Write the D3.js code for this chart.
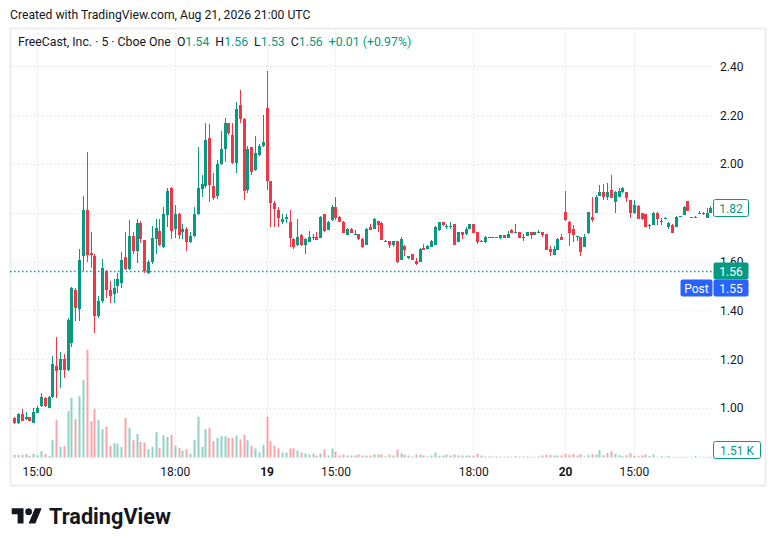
<!DOCTYPE html>
<html><head><meta charset="utf-8">
<script src="https://cdn.jsdelivr.net/npm/d3@7/dist/d3.min.js"></script>
<style>
html,body{margin:0;padding:0;background:#fff;}
svg{display:block;font-family:Roboto,"Noto Sans",sans-serif;}
</style></head><body>
<svg id="c" width="776" height="546"></svg>
<script>
// ---- data ----
const open = [.96,.94,.974,.954,.963,.94,.98,1.009,1.042,1.001,1.046,1.172,1.156,1.20,1.156,1.265,1.484,1.405,1.624,1.81,
1.635,1.623,1.377,1.437,1.56,1.484,1.467,1.50,1.514,1.618,1.571,1.705,1.645,1.758,1.688,1.553,1.597,1.692,1.725,1.66,
1.79,1.90,1.733,1.795,1.72,1.733,1.681,1.703,1.797,1.897,1.91,2.105,1.908,1.87,2.0,2.06,2.17,2.117,2.004,2.24,
2.186,1.894,2.068,1.975,2.038,2.075,2.23,1.93,1.84,1.81,1.764,1.776,1.762,1.693,1.667,1.709,1.668,1.68,1.698,1.70,
1.698,1.794,1.731,1.772,1.824,1.783,1.762,1.71,1.734,1.71,1.713,1.693,1.668,1.743,1.735,1.765,1.759,1.682,1.684,1.668,
1.684,1.607,1.664,1.615,1.631,1.602,1.60,1.656,1.652,1.66,1.668,1.731,1.762,1.742,1.743,1.754,1.682,1.721,1.713,1.735,
1.754,1.721,1.682,1.68,1.699,1.699,1.699,1.697,1.708,1.697,1.73,1.717,1.721,1.697,1.705,1.721,1.709,1.719,1.721,1.712,
1.652,1.628,1.648,1.70,1.803,1.764,1.734,1.70,1.70,1.66,1.717,1.784,1.80,1.87,1.885,1.866,1.893,1.843,1.866,1.885,
1.885,1.852,1.80,1.828,1.80,1.795,1.75,1.751,1.80,1.762,1.776,1.743,1.751,1.743,1.784,1.793,1.848,1.780,1.782,1.799,
1.80,1.78,1.80];
const high = [.964,.98,.995,.982,.965,1.0,1.01,1.06,1.045,1.05,1.213,1.292,1.23,1.22,1.37,1.496,1.49,1.652,1.87,2.05,
1.72,1.63,1.46,1.61,1.565,1.52,1.53,1.555,1.64,1.72,1.77,1.72,1.775,1.766,1.69,1.605,1.745,1.775,1.775,1.825,
1.903,1.905,1.832,1.80,1.753,1.74,1.72,1.825,2.07,1.955,2.17,2.164,1.962,2.016,2.135,2.19,2.17,2.17,2.254,2.303,
2.19,2.074,2.07,2.115,2.08,2.20,2.38,1.93,1.848,1.824,1.794,1.794,1.81,1.695,1.776,1.712,1.695,1.727,1.712,1.72,
1.785,1.797,1.765,1.832,1.866,1.785,1.767,1.739,1.736,1.728,1.713,1.695,1.739,1.754,1.778,1.765,1.761,1.689,1.686,1.686,
1.686,1.70,1.667,1.623,1.633,1.615,1.654,1.672,1.666,1.688,1.745,1.764,1.764,1.753,1.762,1.756,1.723,1.723,1.743,1.756,
1.756,1.723,1.689,1.705,1.702,1.702,1.701,1.709,1.709,1.724,1.732,1.754,1.723,1.712,1.723,1.723,1.723,1.729,1.723,1.714,
1.664,1.664,1.695,1.713,1.888,1.766,1.75,1.704,1.702,1.713,1.805,1.865,1.872,1.914,1.917,1.921,1.955,1.888,1.90,1.904,
1.887,1.854,1.852,1.83,1.80,1.797,1.753,1.802,1.802,1.777,1.784,1.761,1.753,1.786,1.788,1.827,1.85,1.783,1.786,1.806,
1.802,1.818,1.826];
const low = [.935,.935,.945,.95,.945,.938,.978,1.005,1.005,1.0,1.04,1.042,1.083,1.124,1.15,1.251,1.355,1.355,1.563,1.598,
1.575,1.306,1.37,1.43,1.45,1.43,1.43,1.47,1.49,1.565,1.565,1.63,1.593,1.675,1.555,1.55,1.59,1.63,1.665,1.655,
1.743,1.693,1.695,1.693,1.693,1.643,1.678,1.70,1.79,1.866,1.90,1.845,1.852,1.857,1.995,2.007,2.119,2.0,1.964,2.167,
1.854,1.88,1.955,1.97,2.033,2.07,1.893,1.743,1.743,1.743,1.753,1.76,1.66,1.65,1.664,1.665,1.63,1.68,1.69,1.69,
1.695,1.723,1.728,1.768,1.772,1.762,1.718,1.71,1.716,1.709,1.688,1.657,1.668,1.729,1.733,1.723,1.688,1.679,1.654,1.66,
1.594,1.605,1.623,1.612,1.605,1.587,1.598,1.646,1.65,1.658,1.666,1.727,1.745,1.735,1.735,1.666,1.68,1.693,1.711,1.733,
1.716,1.673,1.679,1.678,1.698,1.698,1.698,1.693,1.696,1.695,1.716,1.716,1.696,1.685,1.703,1.693,1.707,1.718,1.701,1.646,
1.623,1.626,1.646,1.687,1.768,1.664,1.682,1.686,1.623,1.658,1.715,1.762,1.798,1.868,1.852,1.852,1.86,1.80,1.864,1.883,
1.843,1.777,1.795,1.773,1.771,1.741,1.735,1.749,1.751,1.75,1.775,1.735,1.716,1.741,1.782,1.789,1.807,1.779,1.78,1.797,
1.792,1.778,1.798];
const close = [.94,.974,.948,.963,.948,.982,1.0,1.046,1.009,1.046,1.18,1.152,1.20,1.156,1.36,1.49,1.409,1.607,1.81,1.628,
1.628,1.377,1.438,1.573,1.484,1.461,1.49,1.53,1.607,1.571,1.705,1.645,1.758,1.692,1.561,1.598,1.697,1.738,1.669,1.795,
1.89,1.727,1.795,1.71,1.733,1.681,1.705,1.797,1.90,1.92,2.10,1.915,1.86,2.0,2.06,2.17,2.127,2.004,2.226,2.186,
1.888,2.06,1.967,2.047,2.075,2.09,1.93,1.84,1.815,1.78,1.776,1.781,1.698,1.661,1.70,1.668,1.693,1.70,1.701,1.69,
1.783,1.727,1.762,1.824,1.779,1.764,1.718,1.735,1.718,1.713,1.691,1.661,1.735,1.731,1.776,1.75,1.69,1.686,1.668,1.684,
1.598,1.693,1.648,1.623,1.607,1.591,1.652,1.648,1.664,1.684,1.743,1.762,1.75,1.745,1.746,1.668,1.721,1.709,1.735,1.754,
1.718,1.682,1.686,1.70,1.701,1.701,1.70,1.708,1.697,1.712,1.717,1.721,1.697,1.699,1.721,1.709,1.721,1.721,1.708,1.648,
1.639,1.652,1.693,1.689,1.77,1.717,1.709,1.703,1.639,1.70,1.803,1.77,1.865,1.885,1.866,1.885,1.862,1.885,1.888,1.90,
1.859,1.80,1.833,1.775,1.775,1.743,1.752,1.80,1.775,1.767,1.779,1.759,1.718,1.784,1.786,1.825,1.809,1.782,1.784,1.801,
1.794,1.80,1.82];
const volume = [8,8,8,11,5,11,7,19,11,5,52,112,32,34,139,179,115,184,233,323,
109,146,112,85,92,35,43,41,31,119,89,52,70,47,45,25,32,76,29,67,
62,67,35,29,20,25,11,52,122,32,85,89,49,59,64,64,59,59,66,54,
68,52,35,27,15,38,122,50,35,27,15,15,27,27,21,15,12,9,12,6,
12,24,6,27,18,6,9,6,6,6,9,6,6,6,9,9,9,3,9,6,
24,12,9,6,3,9,9,6,3,6,15,6,6,9,6,9,6,6,6,6,
6,12,6,3,3,3,3,2,2,3,2,4,3,3,3,2,2,3,6,9,
8,6,6,6,10,8,10,6,10,3,7,10,9,22,7,13,19,11,7,4,
7,13,6,4,6,9,4,9,2,4,2,4,2,2,2,2,2,2,4,2,
2,2,2];
const priceTicks = [1.00,1.20,1.40,1.60,1.80,2.00,2.20,2.40];
const timeTickIdx = [6,42,66,84,120,144,162];
const timeTickLabels = ["15:00","18:00","19","15:00","18:00","20","15:00"];
const lastPrice = 1.56, postPrice = 1.55, lastBarPrice = 1.82;
const volumeLabel = "1.51 K";
const headerText = "Created with TradingView.com, Aug 21, 2026 21:00 UTC";
const legendName = "FreeCast, Inc. · 5 · Cboe One";
const legendOHLC = [["O","1.54"],["H","1.56"],["L","1.53"],["C","1.56"]];
const legendChange = "+0.01 (+0.97%)";

// ---- drawing ----
const UP = "#089981", DN = "#F23645";
const svg = d3.select("#c");
const x = d3.scaleLinear().domain([0, open.length-1]).range([14.1, 14.1 + (open.length-1)*3.826]);
const y = d3.scaleLinear().domain([1.0, 2.4]).range([408, 66.4]);
const v = d3.scaleLinear().domain([0, d3.max(volume)]).range([457.5, 349.8]);
const plotL = 10, plotR = 712, plotT = 29, plotB = 459;

svg.append("text").attr("x",10).attr("y",19).attr("font-size",12.2).attr("fill","#131722").text(headerText);
svg.append("rect").attr("x",10.5).attr("y",28.5).attr("width",755).attr("height",457)
  .attr("fill","none").attr("stroke","#eceef2").attr("stroke-width",2);

const grid = svg.append("g").attr("stroke","#d5d8df").attr("stroke-dasharray","1,3");
grid.selectAll("line.h").data(priceTicks).join("line").attr("class","h")
  .attr("x1",plotL).attr("x2",plotR).attr("y1",d=>Math.round(y(d))+0.5).attr("y2",d=>Math.round(y(d))+0.5);
grid.selectAll("line.v").data(timeTickIdx).join("line").attr("class","v")
  .attr("y1",plotT).attr("y2",plotB).attr("x1",d=>Math.round(x(d))+0.5).attr("x2",d=>Math.round(x(d))+0.5);

const idx = d3.range(open.length);
// volume
svg.append("g").selectAll("rect").data(idx).join("rect")
  .attr("x",i=>Math.round(x(i))-0.5).attr("width",2)
  .attr("y",i=>v(volume[i])).attr("height",i=>v(0)-v(volume[i]))
  .attr("fill",i=>close[i]>=open[i]?UP:DN).attr("fill-opacity",0.45);

// candles
const cg = svg.append("g").attr("shape-rendering","crispEdges");
cg.selectAll("line").data(idx).join("line")
  .attr("x1",i=>Math.round(x(i))+0.5).attr("x2",i=>Math.round(x(i))+0.5)
  .attr("y1",i=>y(high[i])).attr("y2",i=>y(low[i]))
  .attr("stroke",i=>close[i]>=open[i]?UP:DN).attr("stroke-width",1);
cg.selectAll("rect").data(idx).join("rect")
  .attr("x",i=>Math.round(x(i))-1).attr("width",3)
  .attr("y",i=>y(Math.max(open[i],close[i])))
  .attr("height",i=>Math.max(1,Math.abs(y(open[i])-y(close[i]))))
  .attr("fill",i=>close[i]>=open[i]?UP:DN);

// last price line
svg.append("line").attr("x1",plotL).attr("x2",plotR)
  .attr("y1",Math.round(y(lastPrice))+0.5).attr("y2",Math.round(y(lastPrice))+0.5)
  .attr("stroke","#1a8aa8").attr("stroke-width",1.5).attr("stroke-dasharray","1.5,2.5");

// price axis
const ya = svg.append("g").attr("transform",`translate(${plotR},0)`)
  .call(d3.axisRight(y).tickValues(priceTicks).tickFormat(d3.format(".2f")).tickSize(0).tickPadding(8));
ya.select(".domain").remove();
ya.selectAll("text").attr("font-size",12).attr("fill","#131722").attr("font-family","Roboto,sans-serif");

// time axis
const xa = svg.append("g").attr("transform",`translate(0,${plotB})`)
  .call(d3.axisBottom(x).tickValues(timeTickIdx).tickFormat((d,k)=>timeTickLabels[k]).tickSize(0).tickPadding(8));
xa.select(".domain").remove();
xa.selectAll("text").attr("font-size",12).attr("fill","#131722").attr("font-family","Roboto,sans-serif")
  .attr("font-weight",(d,k)=>/^\d+$/.test(timeTickLabels[k])?700:400);

// price labels
function box(x0,w,yc,fill,stroke,txt,tc){
  svg.append("rect").attr("x",x0+0.5).attr("y",Math.round(yc)-8.5).attr("width",w).attr("height",17).attr("rx",2)
    .attr("fill",fill).attr("stroke",stroke||"none");
  svg.append("text").attr("x",x0+w/2+0.5).attr("y",Math.round(yc)+4.5).attr("text-anchor","middle")
    .attr("font-size",12).attr("fill",tc).text(txt);
}
box(713,35,y(lastBarPrice),"#fff",UP,d3.format(".2f")(lastBarPrice),UP);
box(713,35,y(lastPrice),UP,null,d3.format(".2f")(lastPrice),"#fff");
box(680,32,y(lastPrice)+17,"#2962FF",null,"Post","#fff");
box(713,35,y(lastPrice)+17,"#2962FF",null,d3.format(".2f")(postPrice),"#fff");
box(713,47,450,"#fff",UP,volumeLabel,UP);

// legend
const lg = svg.append("text").attr("x",18).attr("y",46).attr("font-size",12.3).attr("fill","#131722");
lg.append("tspan").text(legendName);
legendOHLC.forEach(([k,val],j)=>{
  lg.append("tspan").attr("dx",6).text(k);
  lg.append("tspan").attr("fill",UP).text(val);
});
lg.append("tspan").attr("dx",6).attr("fill",UP).text(legendChange);

// logo
const logo = svg.append("g").attr("transform","translate(11.7,504.9) scale(0.845)").attr("fill","#131722");
logo.append("path").attr("d","M14 22H7V11H0V4h14v18zM28 22h-8l7.5-18h8L28 22z");
logo.append("circle").attr("cx",20).attr("cy",8).attr("r",4);
svg.append("text").attr("x",49).attr("y",523.5).attr("font-size",21.7).attr("font-weight",700)
  .attr("fill","#131722").text("TradingView");
</script></body></html>
